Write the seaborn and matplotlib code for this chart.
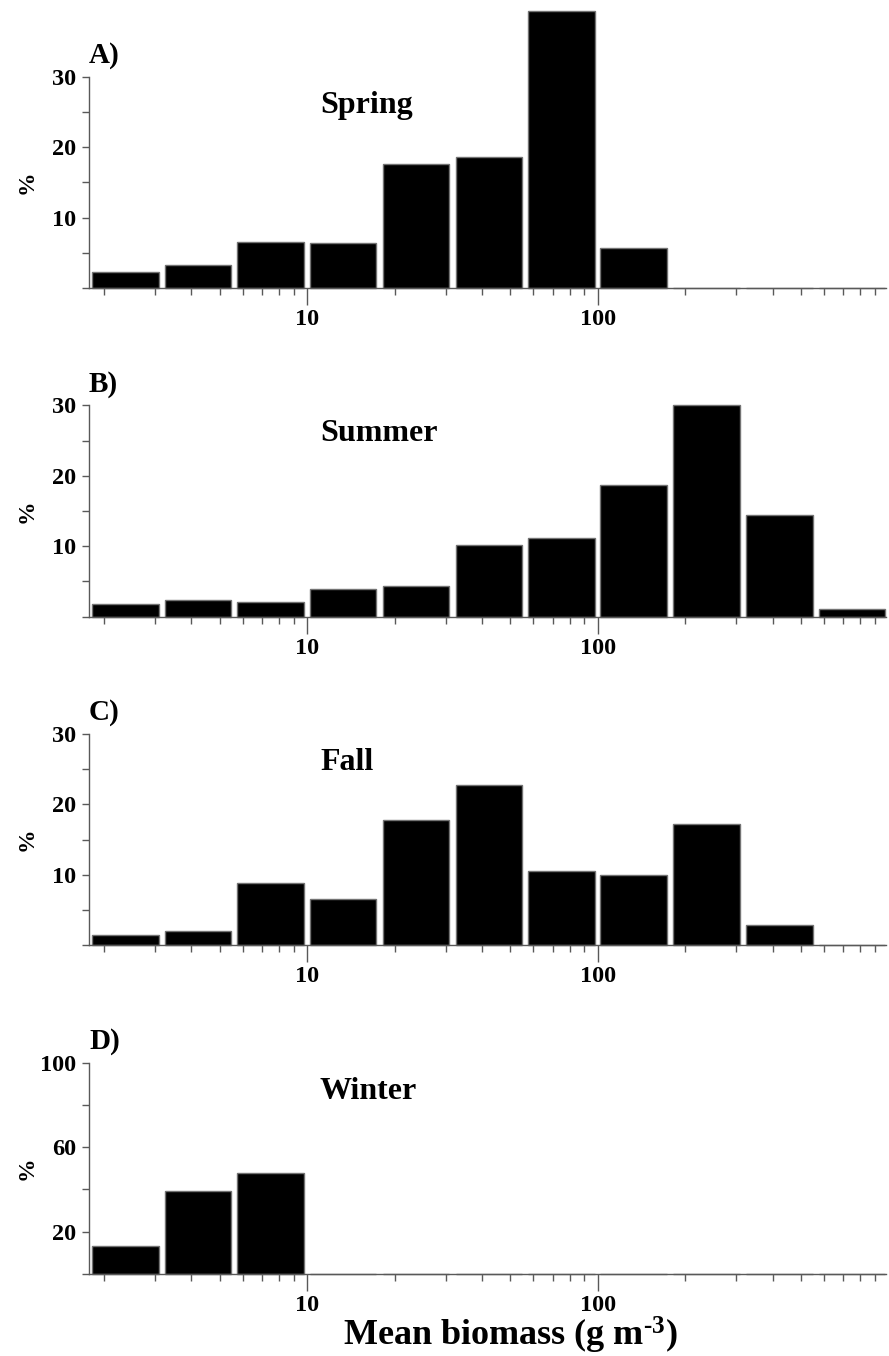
import numpy as np
import pandas as pd
import matplotlib
matplotlib.use("Agg")
import matplotlib.pyplot as plt
import seaborn as sns

# bin centres (log-spaced, quarter-decade bins)
bin_centers = [2.37, 4.22, 7.50, 13.3, 23.7, 42.2, 75.0, 133.0, 237.0, 422.0, 750.0]

spring = [2.3, 3.2, 6.6, 6.35, 17.6, 18.6, 39.3, 5.7, 0.0, 0.0, 0.0]
summer = [1.8, 2.4, 2.05, 3.95, 4.3, 10.2, 11.2, 18.7, 30.0, 14.4, 1.1]
fall = [1.4, 2.0, 8.8, 6.6, 17.8, 22.7, 10.5, 10.0, 17.2, 2.9, 0.0]
winter = [13.1, 39.3, 47.8, 0.0, 0.0, 0.0, 0.0, 0.0, 0.0, 0.0, 0.0]

panel_letters = ["A)", "B)", "C)", "D)"]
seasons = ["Spring", "Summer", "Fall", "Winter"]
series = [spring, summer, fall, winter]
y_major = [[0, 10, 20, 30]] * 3 + [[0, 20, 60, 100]]
y_major_labels = [["", "10", "20", "30"]] * 3 + [["", "20", "60", "100"]]
y_minor = [[5, 15, 25]] * 3 + [[40, 80]]
y_top = [30, 30, 30, 100]
x_tick_labels = {10: "10", 100: "100"}
x_label = r"Mean biomass (g m$^{\text{-3}}$)"

sns.set_style("white")
plt.rcParams["font.family"] = ["Liberation Serif", "DejaVu Serif"]
plt.rcParams["font.weight"] = "bold"
plt.rcParams["text.color"] = "black"
plt.rcParams["axes.labelcolor"] = "black"
plt.rcParams["mathtext.fontset"] = "custom"
plt.rcParams["mathtext.rm"] = "Liberation Serif:bold"
plt.rcParams["mathtext.bf"] = "Liberation Serif:bold"
plt.rcParams["mathtext.it"] = "Liberation Serif:bold"

W, H = 889, 1356
fig = plt.figure(figsize=(W / 100, H / 100), dpi=100)

spine_col = "0.35"
left_px, right_px = 89, 885.5
axw_px = right_px - left_px
axh_px = 211.3
bottoms_px = [288, 616.7, 945.3, 1274]

for i in range(4):
    b = bottoms_px[i]
    ax = fig.add_axes([left_px / W, 1 - b / H, axw_px / W, axh_px / H])
    ax.set_xscale("log")
    df = pd.DataFrame({"x": bin_centers, "y": series[i]})
    sns.barplot(data=df, x="x", y="y", native_scale=True, width=0.92,
                color="black", edgecolor="0.45", linewidth=1.0, saturation=1,
                ax=ax, errorbar=None)
    for p in ax.patches:
        p.set_clip_on(False)
    ax.set_xscale("log")
    ax.set_xlim(10 ** 0.25, 10 ** 2.99)
    ax.set_ylim(0, y_top[i])

    ax.set_xticks([10, 100])
    ax.set_xticklabels([x_tick_labels[10], x_tick_labels[100]])
    minors = [m * d for d in (1, 10, 100) for m in range(2, 10)]
    ax.set_xticks([m for m in minors if 10 ** 0.25 <= m <= 10 ** 2.99], minor=True)
    ax.xaxis.set_minor_formatter(matplotlib.ticker.NullFormatter())

    ax.set_yticks(y_major[i])
    ax.set_yticklabels(y_major_labels[i])
    ax.set_yticks(y_minor[i], minor=True)

    ax.tick_params(axis="x", which="major", direction="out", length=12, width=1,
                   color=spine_col, labelcolor="black", labelsize=17.5, pad=3,
                   bottom=True)
    ax.tick_params(axis="x", which="minor", direction="out", length=5, width=1,
                   color=spine_col, bottom=True)
    ax.tick_params(axis="y", which="both", direction="out", length=5, width=1,
                   color=spine_col, labelcolor="black", labelsize=17.5, pad=4,
                   left=True)
    for lab in ax.get_xticklabels() + ax.get_yticklabels():
        lab.set_fontweight("bold")

    for s in ["top", "right"]:
        ax.spines[s].set_visible(False)
    for s in ["left", "bottom"]:
        ax.spines[s].set_color(spine_col)
        ax.spines[s].set_linewidth(1)

    ax.set_xlabel("")
    ax.set_ylabel("%", fontsize=17, fontweight="bold", color="black")
    ax.yaxis.set_label_coords(-(left_px - 38) / axw_px, 0.5)

    ax.text(0.0, 1 + 14 / axh_px, panel_letters[i], transform=ax.transAxes,
            fontsize=21, fontweight="bold", ha="left", va="baseline",
            color="black")
    ax.text((320 - left_px) / axw_px, 1 - 36 / axh_px, seasons[i],
            transform=ax.transAxes, fontsize=23, fontweight="bold",
            ha="left", va="baseline", color="black")

fig.text(510 / W, 1 - 1346 / H, x_label, color="black",
         fontsize=26, fontweight="bold", ha="center", va="baseline")

fig.savefig("out.png", dpi=100)
